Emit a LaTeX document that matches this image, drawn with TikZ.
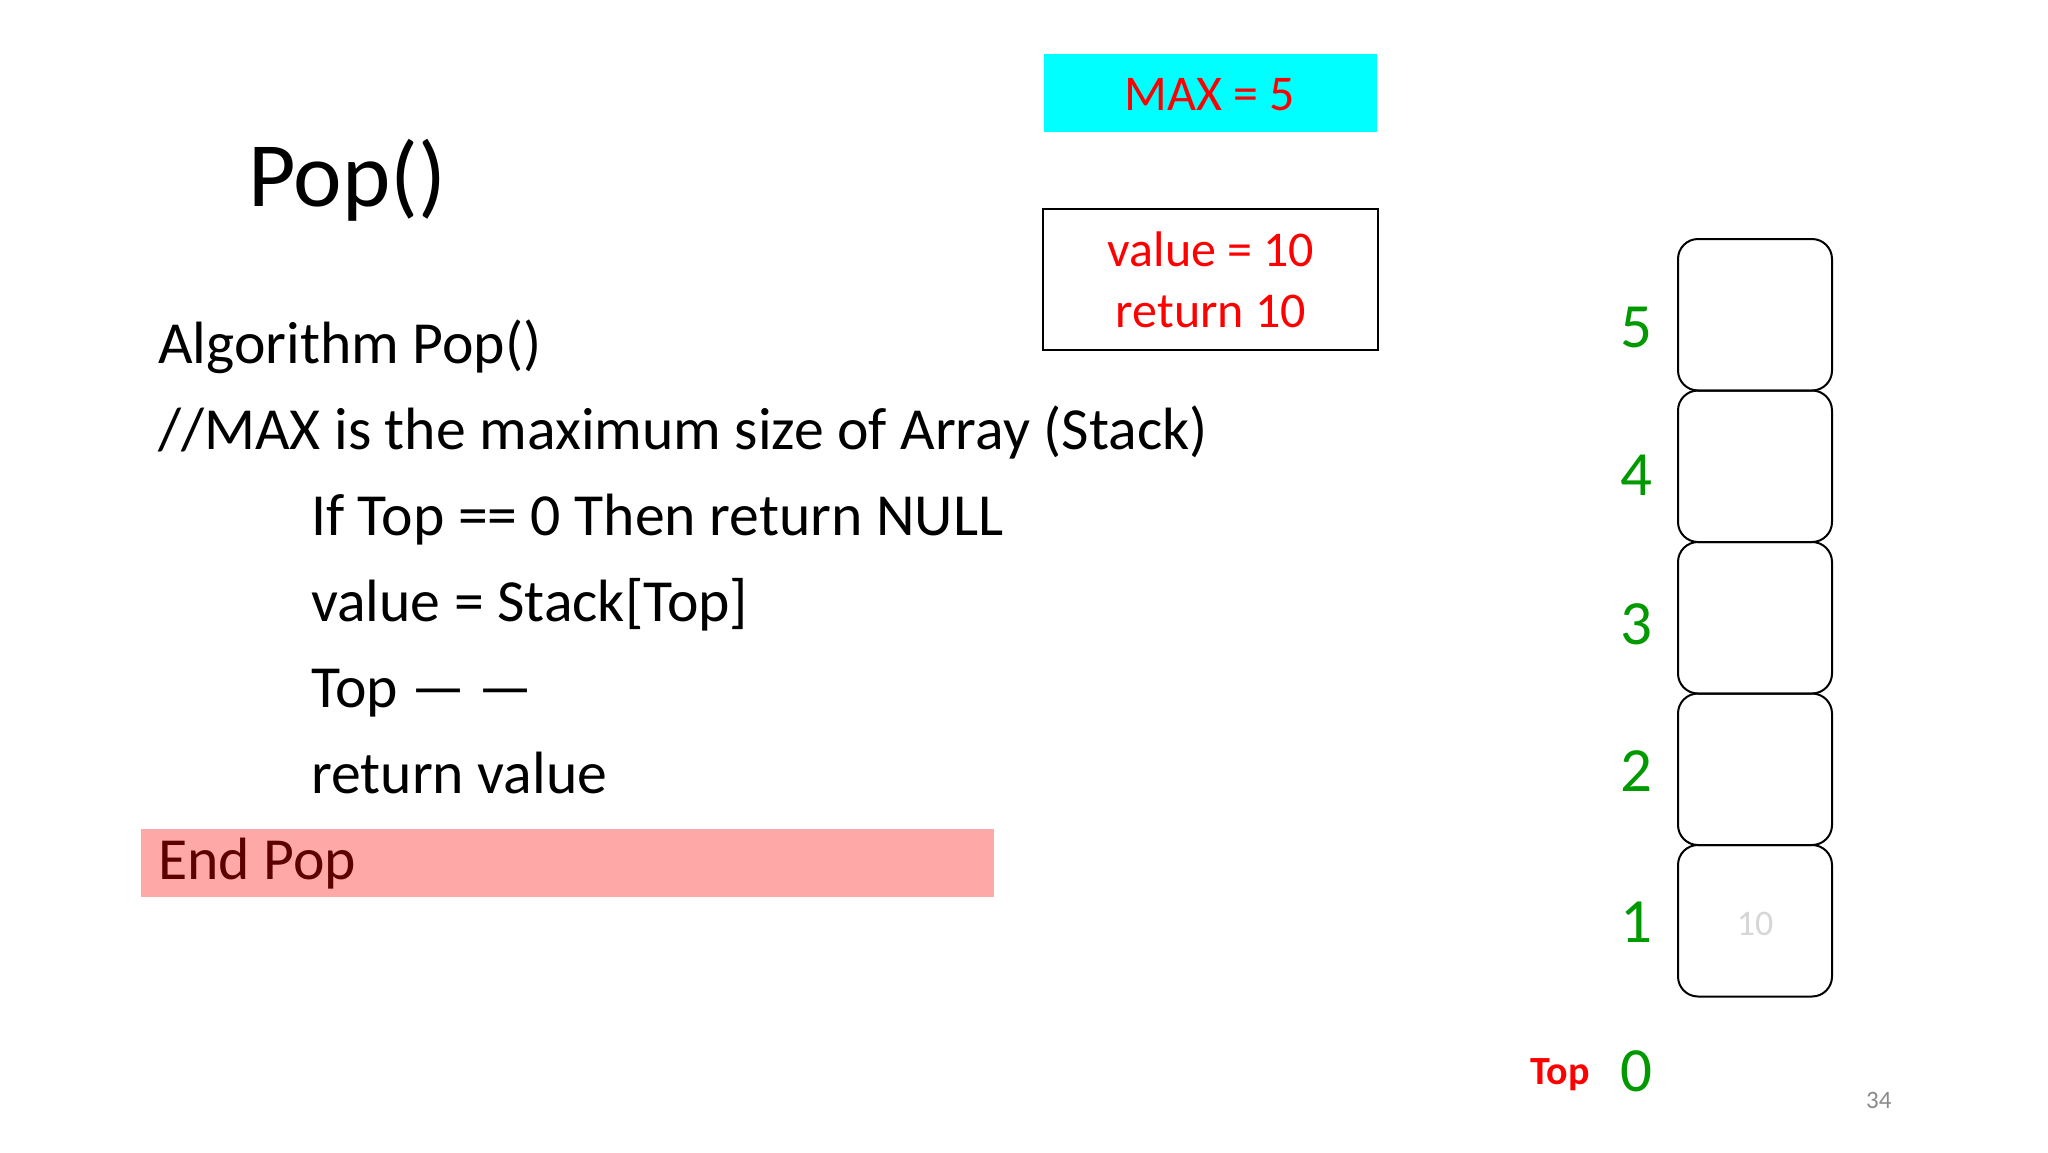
\documentclass[tikz,border=0pt]{standalone}
\usepackage{fontspec}
\setmainfont{Carlito}
\definecolor{cyanbox}{HTML}{00FFFF}
\definecolor{redtxt}{HTML}{FF0000}
\definecolor{greentxt}{HTML}{009A00}
\definecolor{pinkbox}{HTML}{FFA8A8}
\definecolor{darkred}{HTML}{5C0000}
\definecolor{lightgray}{HTML}{D6D6D6}
\definecolor{pagegray}{HTML}{8A8A8A}
\begin{document}
\begin{tikzpicture}[x=1pt,y=-1pt,
  codeline/.style={inner sep=0pt, anchor=base west, font=\fontsize{59.7}{70}\selectfont},
  idx/.style={inner sep=0pt, anchor=base, text=greentxt, font=\fontsize{63}{70}\selectfont},
  cell/.style={draw, line width=2pt, rounded corners=20pt, minimum width=154pt, minimum height=151.5pt, inner sep=0pt},
  redlabel/.style={inner sep=0pt, anchor=base, text=redtxt, font=\fontsize{50}{58}\selectfont}]
\useasboundingbox (0,0) rectangle (2048,1152);
\fill[white] (0,0) rectangle (2048,1152);
% title
\node[inner sep=0pt, anchor=base west, font=\fontsize{92}{100}\selectfont] (title) at (248,206) {Pop()};
% info boxes
\node[fill=cyanbox, minimum width=333pt, minimum height=78pt, inner sep=0pt] (maxbox) at (1210.5,93) {};
\node[redlabel] (maxtxt) at (1210,110) {MAX = 5};
\node[draw, line width=2pt, minimum width=335pt, minimum height=141pt, inner sep=0pt] (vbox) at (1210.5,279.5) {};
\node[redlabel] (vtxt) at (1211,266) {value = 10};
\node[redlabel] (rtxt) at (1211,327) {return 10};
% algorithm
\node[codeline] (l1) at (158,363) {Algorithm Pop()};
\node[codeline] (l2) at (158,449) {//MAX is the maximum size of Array (Stack)};
\node[codeline] (l3) at (311,535) {If Top == 0 Then return NULL};
\node[codeline] (l4) at (311,621) {value = Stack[Top]};
\node[codeline] (l5) at (311,707) {Top — —};
\node[codeline] (l6) at (311,793) {return value};
\node[fill=pinkbox, minimum width=853pt, minimum height=68pt, inner sep=0pt] (endbox) at (567.5,863) {};
\node[codeline, text=darkred] (l7) at (158,879) {End Pop};
% stack
\node[cell] (c5) at (1755,314.75) {};
\node[cell] (c4) at (1755,466.25) {};
\node[cell] (c3) at (1755,617.75) {};
\node[cell] (c2) at (1755,769.25) {};
\node[cell] (c1) at (1755,920.75) {};
\node[inner sep=0pt, anchor=base, text=lightgray, font=\fontsize{36}{40}\selectfont] (v10) at (1755,935) {10};
\node[idx] (i5) at (1636,347) {5};
\node[idx] (i4) at (1636,495) {4};
\node[idx] (i3) at (1636,644) {3};
\node[idx] (i2) at (1636,791) {2};
\node[idx] (i1) at (1636,942) {1};
\node[idx] (i0) at (1636,1091) {0};
\node[inner sep=0pt, anchor=base west, text=redtxt, font=\fontsize{40}{48}\selectfont\bfseries] (toplbl) at (1530,1084) {Top};
\node[inner sep=0pt, anchor=base west, text=pagegray, font=\fontsize{25}{30}\selectfont] (pnum) at (1866,1108) {34};
\end{tikzpicture}
\end{document}
